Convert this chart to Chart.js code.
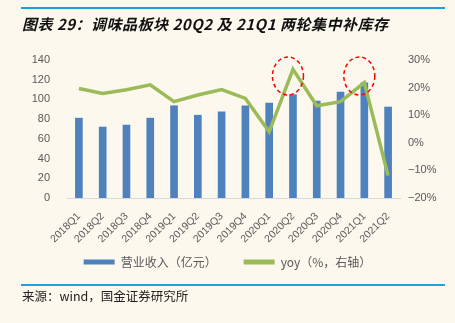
<!DOCTYPE html>
<html>
<head>
<meta charset="utf-8">
<script src="https://cdn.jsdelivr.net/npm/chart.js@4.4.1/dist/chart.umd.min.js"></script>
<style>
  html, body { margin: 0; padding: 0; }
  body { width: 455px; height: 323px; overflow: hidden; background: #FCF8EE; position: relative; font-family: "Noto Sans CJK SC", "Liberation Sans", sans-serif; }
  .rule { position: absolute; left: 21px; width: 424px; height: 2px; background: #1BA1E2; }
  #title { position: absolute; left: 22px; top: 14px; font-size: 15px; font-style: italic; font-weight: bold; color: #111; letter-spacing: 0.5px; white-space: nowrap; line-height: 20px; }
  #source { position: absolute; left: 22px; top: 287px; font-size: 12.5px; color: #222; white-space: nowrap; line-height: 18px; }
  #wrap { position: absolute; left: 0; top: 0; width: 455px; height: 295px; }
</style>
</head>
<body>
<div id="wrap"><canvas id="c"></canvas></div>
<div class="rule" style="top:7px"></div>
<div id="title">图表 29：调味品板块 20Q2 及 21Q1 两轮集中补库存</div>
<div class="rule" style="top:284px"></div>
<div id="source">来源：wind，国金证券研究所</div>
<script>
const categories = ['2018Q1','2018Q2','2018Q3','2018Q4','2019Q1','2019Q2','2019Q3','2019Q4','2020Q1','2020Q2','2020Q3','2020Q4','2021Q1','2021Q2'];
const revenue = [81, 72, 74, 81, 93.6, 84, 87.5, 93.6, 96.3, 104.8, 98.4, 107.5, 116.9, 92.3];
const yoy = [19.7, 17.9, 19.2, 21.0, 14.9, 17.3, 19.3, 16.1, 4.0, 26.6, 13.4, 14.9, 21.8, -11.9];
const leftTicks = [0, 20, 40, 60, 80, 100, 120, 140];
const rightTicks = [-20, -10, 0, 10, 20, 30];
const highlighted = ['2020Q2', '2021Q1'];
const seriesNames = ['营业收入（亿元）', 'yoy（%，右轴）'];

const BLUE = '#4F81BD', GREEN = '#9BBB59', TXT = '#595959';

const circles = {
  id: 'circles',
  afterDatasetsDraw(chart) {
    const ctx = chart.ctx, x = chart.scales.x, y1 = chart.scales.y1;
    ctx.save();
    ctx.strokeStyle = '#FF0000';
    ctx.lineWidth = 1.5;
    ctx.setLineDash([4, 3]);
    highlighted.forEach(cat => {
      const i = categories.indexOf(cat);
      const cx = x.getPixelForValue(i) - 5;
      const cy = y1.getPixelForValue(24.2);
      ctx.beginPath();
      ctx.ellipse(cx, cy, 15.5, 19, 0, 0, Math.PI * 2);
      ctx.stroke();
    });
    ctx.restore();
  }
};

const legendShift = {
  id: 'legendShift',
  beforeDraw(chart) {
    const lg = chart.legend;
    if (lg) { lg.top -= 17; lg.bottom -= 17; }
  }
};

new Chart(document.getElementById('c'), {
  type: 'bar',
  data: {
    labels: categories,
    datasets: [
      { type: 'bar', label: seriesNames[0], data: revenue, backgroundColor: BLUE, barThickness: 7, yAxisID: 'y', order: 1 },
      { type: 'line', label: seriesNames[1], data: yoy, borderColor: GREEN, backgroundColor: GREEN, borderWidth: 3.5, pointRadius: 0, tension: 0, yAxisID: 'y1', order: 0 }
    ]
  },
  options: {
    responsive: true,
    maintainAspectRatio: false,
    animation: false,
    devicePixelRatio: 1,
    layout: { padding: { top: 60, left: 0, right: 0, bottom: 0 } },
    plugins: {
      tooltip: { enabled: false },
      legend: {
        position: 'bottom',
        labels: {
          boxWidth: 31, boxHeight: 5, padding: 27, color: TXT,
          font: { family: '"Noto Sans CJK SC", sans-serif', size: 12 },
          sort: (a, b) => a.datasetIndex - b.datasetIndex,
          generateLabels(chart) {
            const items = Chart.defaults.plugins.legend.labels.generateLabels(chart);
            items.forEach(it => { it.lineWidth = 0; it.strokeStyle = 'rgba(0,0,0,0)'; });
            return items;
          }
        }
      }
    },
    scales: {
      x: {
        grid: { display: false, drawTicks: false },
        border: { display: true, color: '#D9D9D9', width: 1 },
        ticks: { color: TXT, font: { family: '"Liberation Sans", Arial, sans-serif', size: 10.5 }, minRotation: 45, maxRotation: 45, padding: 12, autoSkip: false },
        afterFit(s) { s.height = 48; }
      },
      y: {
        position: 'left', min: 0, max: 140,
        grid: { display: false, drawTicks: false },
        border: { display: false },
        afterBuildTicks(s) { s.ticks = leftTicks.map(v => ({ value: v })); },
        ticks: { color: TXT, font: { family: '"Liberation Sans", Arial, sans-serif', size: 11 }, padding: 17 },
        afterFit(s) { s.width = 67; }
      },
      y1: {
        position: 'right', min: -20, max: 30,
        grid: { display: false, drawTicks: false },
        border: { display: false },
        afterBuildTicks(s) { s.ticks = rightTicks.map(v => ({ value: v })); },
        ticks: { color: TXT, font: { family: '"Liberation Sans", Arial, sans-serif', size: 11 }, padding: 8,
          callback: v => (v < 0 ? '\u2212' + Math.abs(v) : v) + '%' },
        afterFit(s) { s.width = 55; }
      }
    }
  },
  plugins: [circles, legendShift]
});
</script>
</body>
</html>
